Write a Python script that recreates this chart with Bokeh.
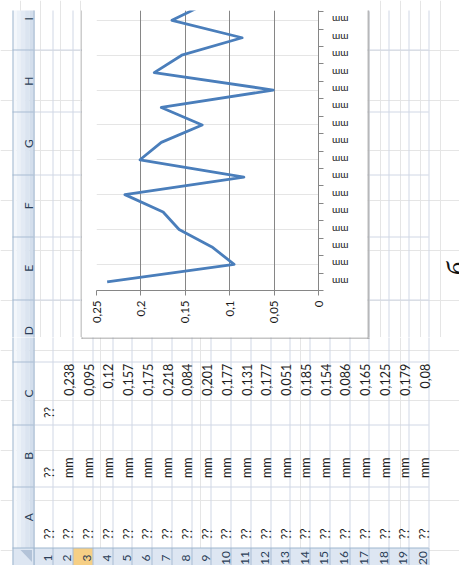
import math
import numpy as np
from bokeh.plotting import figure
from bokeh.layouts import row, column
from bokeh.models import Range1d, FixedTicker, LinearAxis, Grid
from bokeh.core.properties import value
from bokeh.embed import file_html
from bokeh.resources import INLINE

# ---- worksheet contents ----
ROW_NUMBERS = list(range(1, 21))
COLUMN_LETTERS = ["A", "B", "C", "D", "E", "F", "G", "H", "I"]
COL_A = ["??"] * 20
COL_B = ["??"] + ["mm"] * 19
COL_C_HEAD = "??"
THICKNESS = [0.238, 0.095, 0.12, 0.157, 0.175, 0.218, 0.084, 0.201, 0.177,
             0.131, 0.177, 0.051, 0.185, 0.154, 0.086, 0.165, 0.125, 0.179, 0.08]
CATEGORY_LABELS = COL_B[1:]
VALUE_TICKS = [0, 0.05, 0.1, 0.15, 0.2, 0.25]
VALUE_TICK_LABELS = ["0", "0,05", "0,1", "0,15", "0,2", "0,25"]
CAPTION = "б"
ACTIVE_ROW = 3

# ---- page geometry (pixels, y grows downwards; the sheet is turned a quarter turn) ----
PAGE_W, PAGE_H = 459, 565
TOP = 10                      # sheet starts below a white strip
HB_L, HB_R = 12, 33           # band with the column letters
ROW_X0, ROW_H = 33.0, 19.76
ROW_X1 = ROW_X0 + ROW_H * len(ROW_NUMBERS)
COL_W = [61.5, 61.5, 63.0, 62.5, 62.4, 62.4, 62.4, 62.4, 62.4]   # A..I
RB_Y = 547.5                  # upper edge of the band with the row numbers
CHART_L, CHART_R, CHART_B = 82, 367, 337

col_hi = RB_Y - np.cumsum(COL_W)
col_lo = col_hi + np.array(COL_W)
col_mid = (col_hi + col_lo) / 2
row_lo = ROW_X0 + ROW_H * np.arange(len(ROW_NUMBERS))
row_mid = row_lo + ROW_H / 2


def snap(v):
    return np.floor(np.asarray(v, dtype=float)) + 0.5


GRID_C = "#d0d7e5"
SEP_C = "#a9bcd3"
HEAD_TXT = "#2b3e57"
CELL_TXT = "#1e1e1e"
SHEET_FONT = value("Lato")
UP = math.pi / 2


def sheet_panel(x0, x1, y0, y1):
    p = figure(width=x1 - x0, height=y1 - y0,
               x_range=Range1d(x0, x1), y_range=Range1d(y1, y0),
               x_axis_location=None, y_axis_location=None,
               output_backend="svg", toolbar_location=None, title=None,
               outline_line_color=None, background_fill_color="white",
               border_fill_color="white", frame_align=False)
    p.min_border_left = p.min_border_right = 0
    p.min_border_top = p.min_border_bottom = 0

    def put_text(xs, ys, texts, **kw):
        # only the labels anchored inside this panel are drawn here
        xs = np.broadcast_to(np.asarray(xs, dtype=float), (len(texts),))
        ys = np.broadcast_to(np.asarray(ys, dtype=float), (len(texts),))
        keep = [i for i in range(len(texts))
                if x0 <= xs[i] <= x1 and y0 <= ys[i] <= y1]
        if keep:
            p.text(x=[xs[i] for i in keep], y=[ys[i] for i in keep],
                   text=[texts[i] for i in keep], angle=UP, **kw)

    # cell grid
    rx = snap(np.append(row_lo, ROW_X1))
    p.segment(x0=rx, y0=TOP, x1=rx, y1=RB_Y, line_color=GRID_C, line_width=1)
    cy = snap(col_hi[:-1])
    p.segment(x0=ROW_X0, y0=cy, x1=ROW_X1, y1=cy, line_color=GRID_C, line_width=1)

    # column-letter band (light gradient)
    shades = ["#f4f7fb", "#ebf1f8", "#e3eaf4", "#dbe4f0", "#d3deec"]
    edges = np.linspace(HB_L, HB_R, len(shades) + 1)
    p.quad(left=edges[:-1], right=edges[1:], top=TOP, bottom=RB_Y,
           fill_color=shades, line_color=None)
    p.segment(x0=HB_L, y0=cy, x1=HB_R, y1=cy, line_color=SEP_C, line_width=1)

    # row-number band
    p.quad(left=ROW_X0, right=ROW_X1, top=RB_Y, bottom=PAGE_H,
           fill_color="#dde6f2", line_color=None)
    a = ACTIVE_ROW - 1
    p.quad(left=row_lo[a], right=row_lo[a] + ROW_H, top=RB_Y, bottom=PAGE_H,
           fill_color="#f6cf85", line_color=None)
    p.segment(x0=rx, y0=RB_Y, x1=rx, y1=PAGE_H, line_color=SEP_C, line_width=1)

    # corner cell
    p.quad(left=HB_L, right=HB_R, top=RB_Y, bottom=PAGE_H,
           fill_color="#dde6f2", line_color=None)
    p.patch(x=[HB_L + 8, HB_R - 1.5, HB_R - 1.5], y=[RB_Y + 2, RB_Y + 2, RB_Y + 14],
            fill_color="#b3c3d8", line_color=None)

    # band edges
    p.segment(x0=[HB_L + 0.5, HB_R + 0.5], y0=TOP, x1=[HB_L + 0.5, HB_R + 0.5], y1=PAGE_H,
              line_color="#9eb6ce", line_width=1)
    p.segment(x0=HB_L, y0=RB_Y, x1=ROW_X1, y1=RB_Y, line_color="#9eb6ce", line_width=1)

    head = dict(text_font=SHEET_FONT, text_font_size="12px", text_color=HEAD_TXT,
                text_align="center", text_baseline="alphabetic")
    cell = dict(text_font=SHEET_FONT, text_font_size="12.5px", text_color=CELL_TXT,
                text_baseline="alphabetic")

    # header texts
    put_text(HB_R - 5.5, col_mid, COLUMN_LETTERS, **head)
    put_text(row_mid + 4.3, 557.5, [str(n) for n in ROW_NUMBERS], **head)

    # cell texts
    base = row_mid + 5.7
    put_text(base, col_lo[0] - 8.5, COL_A, text_align="left", **cell)
    put_text(base, col_lo[1] - 8.5, COL_B, text_align="left", **cell)
    put_text(base[:1], col_lo[2] - 7, [COL_C_HEAD], text_align="left", **cell)
    put_text(base[1:], col_hi[2] + 1.8, [str(v).replace(".", ",") for v in THICKNESS],
             text_align="right", **cell)

    # chart-area frame edges
    p.segment(x0=CHART_L - 0.5, y0=TOP, x1=CHART_L - 0.5, y1=CHART_B + 1,
              line_color="#9a9a9a", line_width=1)
    p.segment(x0=CHART_L - 1, y0=CHART_B + 0.5, x1=CHART_R + 2, y1=CHART_B + 0.5,
              line_color="#8c8c8c", line_width=1)
    p.segment(x0=CHART_R + 0.5, y0=TOP, x1=CHART_R + 0.5, y1=CHART_B + 1,
              line_color="#7d7d7d", line_width=1)
    p.segment(x0=CHART_R + 1.5, y0=TOP + 1, x1=CHART_R + 1.5, y1=CHART_B + 1,
              line_color="#bdbdbd", line_width=1)

    # figure caption
    put_text([456], [268], [CAPTION], text_font=value("Liberation Serif"),
             text_font_style="italic", text_font_size="27px", text_color="#111111",
             text_align="center", text_baseline="alphabetic")
    return p


# ---- the line chart (value axis runs right-to-left, categories bottom-to-top) ----
CAT_PITCH = 17.43
FRAME_W, FRAME_H = 222, 280
chart = figure(width=CHART_R - CHART_L, height=CHART_B,
               x_range=Range1d(0.25, 0), y_range=Range1d(0.5, 0.5 + FRAME_H / CAT_PITCH),
               x_axis_location=None, y_axis_location=None,
               output_backend="svg", toolbar_location=None, title=None,
               outline_line_color=None, background_fill_color="white",
               border_fill_color="white", frame_align=False)
chart.min_border_left = 14
chart.min_border_right = (CHART_R - CHART_L) - 14 - FRAME_W
chart.min_border_top = TOP
chart.min_border_bottom = CHART_B - TOP - FRAME_H

AX_C = "#868686"
CH_FONT = "Lato"

chart.add_layout(Grid(dimension=0, ticker=FixedTicker(ticks=VALUE_TICKS[1:]),
                      grid_line_color=AX_C, grid_line_width=1))

xaxis = LinearAxis(ticker=FixedTicker(ticks=VALUE_TICKS),
                   major_label_overrides=dict(zip(VALUE_TICKS, VALUE_TICK_LABELS)),
                   major_label_orientation=math.pi / 2,
                   axis_line_color=AX_C, major_tick_line_color=AX_C,
                   minor_tick_line_color=None, major_tick_in=0, major_tick_out=5,
                   major_label_standoff=5, major_label_text_font=CH_FONT,
                   major_label_text_font_size="11.5px", major_label_text_color="#1a1a1a")
chart.add_layout(xaxis, "below")

n = len(THICKNESS)
cat_pos = list(range(1, n + 1))
edge_axis = LinearAxis(ticker=FixedTicker(ticks=[k + 0.5 for k in range(n + 1)]),
                       major_label_overrides={k + 0.5: "" for k in range(n + 1)},
                       axis_line_color=AX_C, major_tick_line_color=AX_C,
                       minor_tick_line_color=None, major_tick_in=0, major_tick_out=5,
                       major_label_standoff=0, major_label_text_font_size="1px")
chart.add_layout(edge_axis, "right")
label_axis = LinearAxis(ticker=FixedTicker(ticks=cat_pos),
                        major_label_overrides=dict(zip(cat_pos, CATEGORY_LABELS)),
                        major_label_orientation=math.pi,
                        axis_line_color=None, major_tick_line_color=None,
                        minor_tick_line_color=None, major_tick_in=0, major_tick_out=0,
                        major_label_standoff=25, major_label_text_font=CH_FONT,
                        major_label_text_font_size="10px", major_label_text_color="#1a1a1a")
chart.add_layout(label_axis, "right")

chart.line(x=THICKNESS, y=cat_pos, line_color="#4a7ebb", line_width=2.8,
           line_join="round")

left = sheet_panel(0, CHART_L, 0, CHART_B)
right = sheet_panel(CHART_R, PAGE_W, 0, CHART_B)
bottom = sheet_panel(0, PAGE_W, CHART_B, PAGE_H)

page = column(row(left, chart, right), bottom)

with open("out.html", "w") as f:
    f.write(file_html(page, INLINE))
